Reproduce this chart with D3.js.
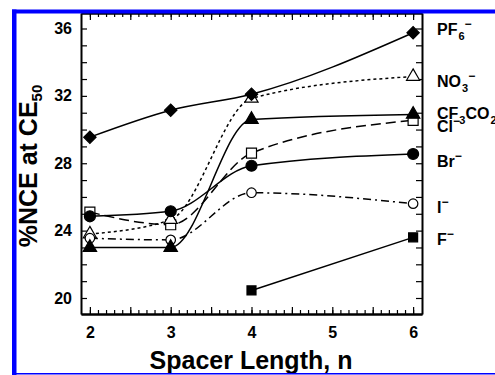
<!DOCTYPE html>
<html>
<head>
<meta charset="utf-8">
<script src="https://cdn.jsdelivr.net/npm/d3@7"></script>
<style>
body { margin: 0; background: #fff; }
svg { display: block; font-family: "Liberation Sans", Arial, sans-serif; font-weight: bold; }
</style>
</head>
<body>
<svg id="chart" width="495" height="375"></svg>
<script>
// values (%NCE at CE50 vs spacer length n)
const spacer = [2, 3, 4, 6]
const pf6 = [29.55, 31.15, 32.1, 35.75]
const no3 = [23.8, 24.65, 31.85, 33.15]
const cf3co2 = [23.0, 23.0, 30.6, 30.9]
const cl = [25.1, 24.35, 28.6, 30.55]
const br = [24.85, 25.15, 27.85, 28.55]
const iodide = [23.55, 23.45, 26.25, 25.6]
const fSpacer = [4, 6]
const fluoride = [20.45, 23.6]

const yTickLabels = [20, 24, 28, 32, 36]
const xTickLabels = [2, 3, 4, 5, 6]

// legend labels: [text, 'sub' | 'sup' | null]
const legendLabels = [
    [['PF', null], ['6', 'sub'], ['\u2212', 'sup']],
    [['NO', null], ['3', 'sub'], ['\u2212', 'sup']],
    [['CF', null], ['3', 'sub'], ['CO', null], ['2', 'sub'], ['\u2212', 'sup']],
    [['Cl', null], ['\u2212', 'sup']],
    [['Br', null], ['\u2212', 'sup']],
    [['I', null], ['\u2212', 'sup']],
    [['F', null], ['\u2212', 'sup']]
]
const legendBaselines = [35, 87, 119, 132, 167, 213, 245]

const svg = d3.select('#chart')

const x = d3.scaleLinear().domain([1.89, 6.11]).range([81, 422])
const y = d3.scaleLinear().domain([19.05, 36.92]).range([314, 13])

const styleAxis = (g) => {
    g.attr('font-family', null).attr('font-size', 16).attr('font-weight', 'bold')
    g.select('.domain').attr('stroke-width', 2)
    g.selectAll('.tick line').attr('stroke-width', 1.2)
    g.selectAll('.tick text').attr('fill', '#000')
}

const yMinor = d3.range(20, 37)
const xMinor = d3.range(20, 61).map(d => d / 10)
const xMajor = d3.range(4, 13).map(d => d / 2)

// left axis
svg.append('g')
    .attr('transform', `translate(${x.range()[0]},0)`)
    .call(d3.axisLeft(y).tickValues(yMinor).tickSizeInner(-6).tickSizeOuter(0).tickPadding(9)
        .tickFormat(d => yTickLabels.includes(d) ? d : ''))
    .call(styleAxis)

// right axis
svg.append('g')
    .attr('transform', `translate(${x.range()[1]},0)`)
    .call(d3.axisRight(y).tickValues(yMinor).tickSizeInner(-6).tickSizeOuter(0).tickFormat(''))
    .call(styleAxis)

// bottom axis: minor and major ticks
svg.append('g')
    .attr('transform', `translate(0,${y.range()[0]})`)
    .call(d3.axisBottom(x).tickValues(xMinor).tickSizeInner(-4).tickSizeOuter(0).tickFormat(''))
    .call(styleAxis)
svg.append('g')
    .attr('transform', `translate(0,${y.range()[0]})`)
    .call(d3.axisBottom(x).tickValues(xMajor).tickSizeInner(-7).tickSizeOuter(0).tickPadding(13)
        .tickFormat(d => xTickLabels.includes(d) ? d : ''))
    .call(styleAxis)

// top axis
svg.append('g')
    .attr('transform', `translate(0,${y.range()[1]})`)
    .call(d3.axisTop(x).tickValues(xMinor).tickSizeInner(-4).tickSizeOuter(0).tickFormat(''))
    .call(styleAxis)
svg.append('g')
    .attr('transform', `translate(0,${y.range()[1]})`)
    .call(d3.axisTop(x).tickValues(xMajor).tickSizeInner(-7).tickSizeOuter(0).tickFormat(''))
    .call(styleAxis)

// series, in drawing order
const series = [
    { xs: spacer, ys: cl, dash: '10,5', symbol: d3.symbolSquare, size: 100, filled: false },
    { xs: spacer, ys: no3, dash: '3,3', symbol: d3.symbolTriangle, size: 75, filled: false },
    { xs: spacer, ys: iodide, dash: '8,4,2,4', symbol: d3.symbolCircle, size: 71, filled: false },
    { xs: spacer, ys: cf3co2, dash: null, symbol: d3.symbolTriangle, size: 78, filled: true },
    { xs: spacer, ys: br, dash: null, symbol: d3.symbolCircle, size: 95, filled: true },
    { xs: spacer, ys: pf6, dash: null, symbol: d3.symbolSquare, size: 76, filled: true, rotate: 45 },
    { xs: fSpacer, ys: fluoride, dash: null, symbol: d3.symbolSquare, size: 81, filled: true }
]

const line = d3.line()
    .x(d => x(d[0]))
    .y(d => y(d[1]))
    .curve(d3.curveMonotoneX)

series.forEach(s => {
    const pts = s.xs.map((v, i) => [v, s.ys[i]])
    svg.append('path')
        .datum(pts)
        .attr('d', line)
        .attr('fill', 'none')
        .attr('stroke', '#000')
        .attr('stroke-width', 1.5)
        .attr('stroke-dasharray', s.dash)
})

series.forEach(s => {
    const pts = s.xs.map((v, i) => [v, s.ys[i]])
    svg.selectAll(null)
        .data(pts)
        .enter()
        .append('path')
        .attr('d', d3.symbol().type(s.symbol).size(s.size))
        .attr('transform', d => `translate(${x(d[0])},${y(d[1])}) rotate(${s.rotate || 0})`)
        .attr('fill', s.filled ? '#000' : '#fff')
        .attr('stroke', '#000')
        .attr('stroke-width', 1.2)
})

// legend labels at the right
legendLabels.forEach((parts, i) => {
    const t = svg.append('text')
        .attr('x', 437)
        .attr('y', legendBaselines[i])
        .attr('font-size', 16)
    let prev = null
    parts.forEach(([txt, kind]) => {
        const ts = t.append('tspan').text(txt)
        if (kind === 'sub') ts.attr('font-size', 11).attr('dy', 5).attr('dx', 1)
        if (kind === 'sup') ts.attr('font-size', 12).attr('dy', prev === 'sub' ? -12 : -7)
        if (kind === null && prev === 'sub') ts.attr('dy', -5)
        prev = kind
    })
})

// axis titles
svg.append('text')
    .attr('x', 251)
    .attr('y', 369)
    .attr('text-anchor', 'middle')
    .attr('font-size', 25)
    .text('Spacer Length, n')

const yTitle = svg.append('text')
    .attr('transform', 'translate(37,166) rotate(-90)')
    .attr('text-anchor', 'middle')
    .attr('font-size', 25)
yTitle.append('tspan').text('%NCE at CE')
yTitle.append('tspan').attr('font-size', 15).attr('dy', 5).text('50')

// blue frame
svg.append('rect').attr('x', 12).attr('y', 9.5).attr('width', 483).attr('height', 4).attr('fill', '#0000ff')
svg.append('rect').attr('x', 12).attr('y', 9.5).attr('width', 4.5).attr('height', 366).attr('fill', '#0000ff')
svg.append('rect').attr('x', 12).attr('y', 373).attr('width', 483).attr('height', 1.5).attr('fill', '#0000ff')
</script>
</body>
</html>
